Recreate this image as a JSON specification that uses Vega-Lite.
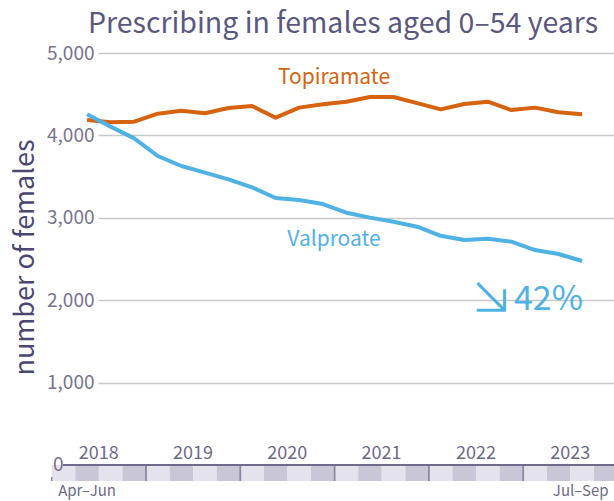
{
  "$schema": "https://vega.github.io/schema/vega-lite/v6.json",
  "width": 516,
  "height": 448,
  "autosize": {"type": "none"},
  "padding": {"left": 98, "top": 53, "right": 0, "bottom": 0},
  "background": "white",
  "config": {
    "view": {"stroke": null},
    "font": "Noto Sans CJK SC",
    "axisX": {"disable": true},
    "axisY": {
      "labelFont": "Noto Sans CJK SC",
      "labelFontSize": 19,
      "labelColor": "#77748f",
      "labelPadding": 4,
      "ticks": false,
      "domain": false,
      "grid": true,
      "gridColor": "#c8c8c8",
      "gridWidth": 1.5,
      "titleFont": "Noto Sans CJK SC",
      "titleFontSize": 27,
      "titleFontWeight": "normal",
      "titleColor": "#4a4873",
      "titleAngle": -90,
      "titleBaseline": "alphabetic",
      "titleAlign": "center",
      "titleX": -65,
      "titleY": 204
    }
  },
  "resolve": {"scale": {"color": "independent"}},
  "title": {
    "text": "Prescribing in females aged 0–54 years",
    "anchor": "start",
    "frame": "group",
    "dx": -10,
    "offset": 6,
    "font": "Noto Sans CJK SC",
    "fontSize": 28.5,
    "fontWeight": "normal",
    "color": "#5b5880"
  },
  "datasets": {
    "series": [
      {"t": 2018.375, "drug": "Topiramate", "n": 4187},
      {"t": 2018.625, "drug": "Topiramate", "n": 4159},
      {"t": 2018.875, "drug": "Topiramate", "n": 4167},
      {"t": 2019.125, "drug": "Topiramate", "n": 4264},
      {"t": 2019.375, "drug": "Topiramate", "n": 4300},
      {"t": 2019.625, "drug": "Topiramate", "n": 4268},
      {"t": 2019.875, "drug": "Topiramate", "n": 4333},
      {"t": 2020.125, "drug": "Topiramate", "n": 4357},
      {"t": 2020.375, "drug": "Topiramate", "n": 4215},
      {"t": 2020.625, "drug": "Topiramate", "n": 4337},
      {"t": 2020.875, "drug": "Topiramate", "n": 4377},
      {"t": 2021.125, "drug": "Topiramate", "n": 4409},
      {"t": 2021.375, "drug": "Topiramate", "n": 4466},
      {"t": 2021.625, "drug": "Topiramate", "n": 4466},
      {"t": 2021.875, "drug": "Topiramate", "n": 4392},
      {"t": 2022.125, "drug": "Topiramate", "n": 4316},
      {"t": 2022.375, "drug": "Topiramate", "n": 4381},
      {"t": 2022.625, "drug": "Topiramate", "n": 4409},
      {"t": 2022.875, "drug": "Topiramate", "n": 4308},
      {"t": 2023.125, "drug": "Topiramate", "n": 4337},
      {"t": 2023.375, "drug": "Topiramate", "n": 4280},
      {"t": 2023.625, "drug": "Topiramate", "n": 4256},
      {"t": 2018.375, "drug": "Valproate", "n": 4256},
      {"t": 2018.625, "drug": "Valproate", "n": 4106},
      {"t": 2018.875, "drug": "Valproate", "n": 3964},
      {"t": 2019.125, "drug": "Valproate", "n": 3750},
      {"t": 2019.375, "drug": "Valproate", "n": 3629},
      {"t": 2019.625, "drug": "Valproate", "n": 3548},
      {"t": 2019.875, "drug": "Valproate", "n": 3467},
      {"t": 2020.125, "drug": "Valproate", "n": 3370},
      {"t": 2020.375, "drug": "Valproate", "n": 3240},
      {"t": 2020.625, "drug": "Valproate", "n": 3216},
      {"t": 2020.875, "drug": "Valproate", "n": 3167},
      {"t": 2021.125, "drug": "Valproate", "n": 3062},
      {"t": 2021.375, "drug": "Valproate", "n": 3002},
      {"t": 2021.625, "drug": "Valproate", "n": 2953},
      {"t": 2021.875, "drug": "Valproate", "n": 2892},
      {"t": 2022.125, "drug": "Valproate", "n": 2781},
      {"t": 2022.375, "drug": "Valproate", "n": 2731},
      {"t": 2022.625, "drug": "Valproate", "n": 2747},
      {"t": 2022.875, "drug": "Valproate", "n": 2711},
      {"t": 2023.125, "drug": "Valproate", "n": 2609},
      {"t": 2023.375, "drug": "Valproate", "n": 2561},
      {"t": 2023.625, "drug": "Valproate", "n": 2476}
    ],
    "quarters": [
      {"start": 2018.0, "end": 2018.25, "q": 1}, {"start": 2018.25, "end": 2018.5, "q": 2}, {"start": 2018.5, "end": 2018.75, "q": 3}, {"start": 2018.75, "end": 2019.0, "q": 4},
      {"start": 2019.0, "end": 2019.25, "q": 1}, {"start": 2019.25, "end": 2019.5, "q": 2}, {"start": 2019.5, "end": 2019.75, "q": 3}, {"start": 2019.75, "end": 2020.0, "q": 4},
      {"start": 2020.0, "end": 2020.25, "q": 1}, {"start": 2020.25, "end": 2020.5, "q": 2}, {"start": 2020.5, "end": 2020.75, "q": 3}, {"start": 2020.75, "end": 2021.0, "q": 4},
      {"start": 2021.0, "end": 2021.25, "q": 1}, {"start": 2021.25, "end": 2021.5, "q": 2}, {"start": 2021.5, "end": 2021.75, "q": 3}, {"start": 2021.75, "end": 2022.0, "q": 4},
      {"start": 2022.0, "end": 2022.25, "q": 1}, {"start": 2022.25, "end": 2022.5, "q": 2}, {"start": 2022.5, "end": 2022.75, "q": 3}, {"start": 2022.75, "end": 2023.0, "q": 4},
      {"start": 2023.0, "end": 2023.25, "q": 1}, {"start": 2023.25, "end": 2023.5, "q": 2}, {"start": 2023.5, "end": 2023.75, "q": 3}, {"start": 2023.75, "end": 2024.0, "q": 4}
    ],
    "years": [
      {"year": 2018}, {"year": 2019}, {"year": 2020}, {"year": 2021}, {"year": 2022}, {"year": 2023}
    ]
  },
  "layer": [
    {
      "data": {"name": "quarters"},
      "mark": {"type": "rect"},
      "encoding": {
        "x": {"field": "start", "type": "quantitative", "scale": {"domain": [2018.491, 2023.963], "nice": false, "zero": false}},
        "x2": {"field": "end"},
        "y": {"datum": 0, "type": "quantitative", "scale": {"domain": [-437, 5000], "nice": false, "zero": false}},
        "y2": {"datum": -194},
        "color": {"field": "q", "type": "ordinal", "legend": null, "scale": {"domain": [1, 2, 3, 4], "range": ["#e4e3eb", "#c9c7d7", "#e4e3eb", "#c9c7d7"]}}
      }
    },
    {
      "data": {"name": "years"},
      "transform": [{"filter": "datum.year > 2018"}],
      "mark": {"type": "rule", "color": "#8a88a3", "strokeWidth": 1.8},
      "encoding": {
        "x": {"field": "year", "type": "quantitative"},
        "y": {"datum": 0, "type": "quantitative"},
        "y2": {"datum": -194}
      }
    },
    {
      "data": {"values": [{}]},
      "mark": {"type": "rule", "color": "#8a88a3", "strokeWidth": 1.5},
      "encoding": {
        "x": {"datum": 2018, "type": "quantitative"},
        "y": {"datum": -146, "type": "quantitative"},
        "y2": {"datum": -194}
      }
    },
    {
      "data": {"values": [{}]},
      "mark": {"type": "rule", "color": "#6e6b8c", "strokeWidth": 2},
      "encoding": {
        "x": {"datum": 2018.12, "type": "quantitative"},
        "x2": {"datum": 2024.1},
        "y": {"datum": 0, "type": "quantitative"}
      }
    },
    {
      "data": {"name": "series"},
      "mark": {"type": "line", "strokeWidth": 4, "strokeJoin": "round", "strokeCap": "butt"},
      "encoding": {
        "x": {"field": "t", "type": "quantitative"},
        "y": {
          "field": "n",
          "type": "quantitative",
          "axis": {
            "title": "number of females",
            "values": [1000, 2000, 3000, 4000, 5000],
            "format": ",",
            "labelExpr": "format(datum.value, ',')"
          }
        },
        "color": {"field": "drug", "type": "nominal", "legend": null, "scale": {"domain": ["Topiramate", "Valproate"], "range": ["#d6630f", "#4fb2e5"]}}
      }
    },
    {
      "data": {"values": [{}]},
      "mark": {"type": "text", "text": "Topiramate", "font": "Noto Sans CJK SC", "fontSize": 21, "color": "#d6630f", "align": "center", "baseline": "alphabetic"},
      "encoding": {
        "x": {"datum": 2020.994, "type": "quantitative"},
        "y": {"datum": 4624, "type": "quantitative"}
      }
    },
    {
      "data": {"values": [{}]},
      "mark": {"type": "text", "text": "Valproate", "font": "Noto Sans CJK SC", "fontSize": 21, "color": "#4fb2e5", "align": "center", "baseline": "alphabetic"},
      "encoding": {
        "x": {"datum": 2020.994, "type": "quantitative"},
        "y": {"datum": 2661, "type": "quantitative"}
      }
    },
    {
      "data": {"values": [{}]},
      "mark": {"type": "text", "text": "42%", "font": "Noto Sans CJK SC", "fontSize": 34, "color": "#4fb2e5", "align": "left", "baseline": "alphabetic"},
      "encoding": {
        "x": {"datum": 2022.902, "type": "quantitative"},
        "y": {"datum": 1875, "type": "quantitative"}
      }
    },
    {
      "data": {"values": [{}]},
      "mark": {"type": "point", "shape": "M-1,-1L1,1M1,-0.55L1,1L-1.05,1", "filled": false, "stroke": "#4fb2e5", "strokeWidth": 3, "size": 740, "opacity": 1, "strokeJoin": "miter"},
      "encoding": {
        "x": {"datum": 2022.659, "type": "quantitative"},
        "y": {"datum": 2042, "type": "quantitative"}
      }
    },
    {
      "data": {"name": "years"},
      "mark": {"type": "text", "font": "Noto Sans CJK SC", "fontSize": 18, "color": "#6d6a89", "align": "center", "baseline": "alphabetic", "dx": 47},
      "encoding": {
        "x": {"field": "year", "type": "quantitative"},
        "y": {"datum": 69, "type": "quantitative"},
        "text": {"field": "year", "type": "nominal"}
      }
    },
    {
      "data": {"values": [{}]},
      "mark": {"type": "text", "text": "0", "font": "Noto Sans CJK SC", "fontSize": 19, "color": "#77748f", "align": "left", "baseline": "middle"},
      "encoding": {
        "x": {"datum": 2018.014, "type": "quantitative"},
        "y": {"datum": 0, "type": "quantitative"}
      }
    },
    {
      "data": {"values": [{}]},
      "mark": {"type": "text", "text": "Apr–Jun", "font": "Noto Sans CJK SC", "fontSize": 15, "color": "#6d6a89", "align": "center", "baseline": "alphabetic"},
      "encoding": {
        "x": {"datum": 2018.375, "type": "quantitative"},
        "y": {"datum": -373, "type": "quantitative"}
      }
    },
    {
      "data": {"values": [{}]},
      "mark": {"type": "text", "text": "Jul–Sep", "font": "Noto Sans CJK SC", "fontSize": 15, "color": "#6d6a89", "align": "center", "baseline": "alphabetic"},
      "encoding": {
        "x": {"datum": 2023.61, "type": "quantitative"},
        "y": {"datum": -373, "type": "quantitative"}
      }
    }
  ]
}
